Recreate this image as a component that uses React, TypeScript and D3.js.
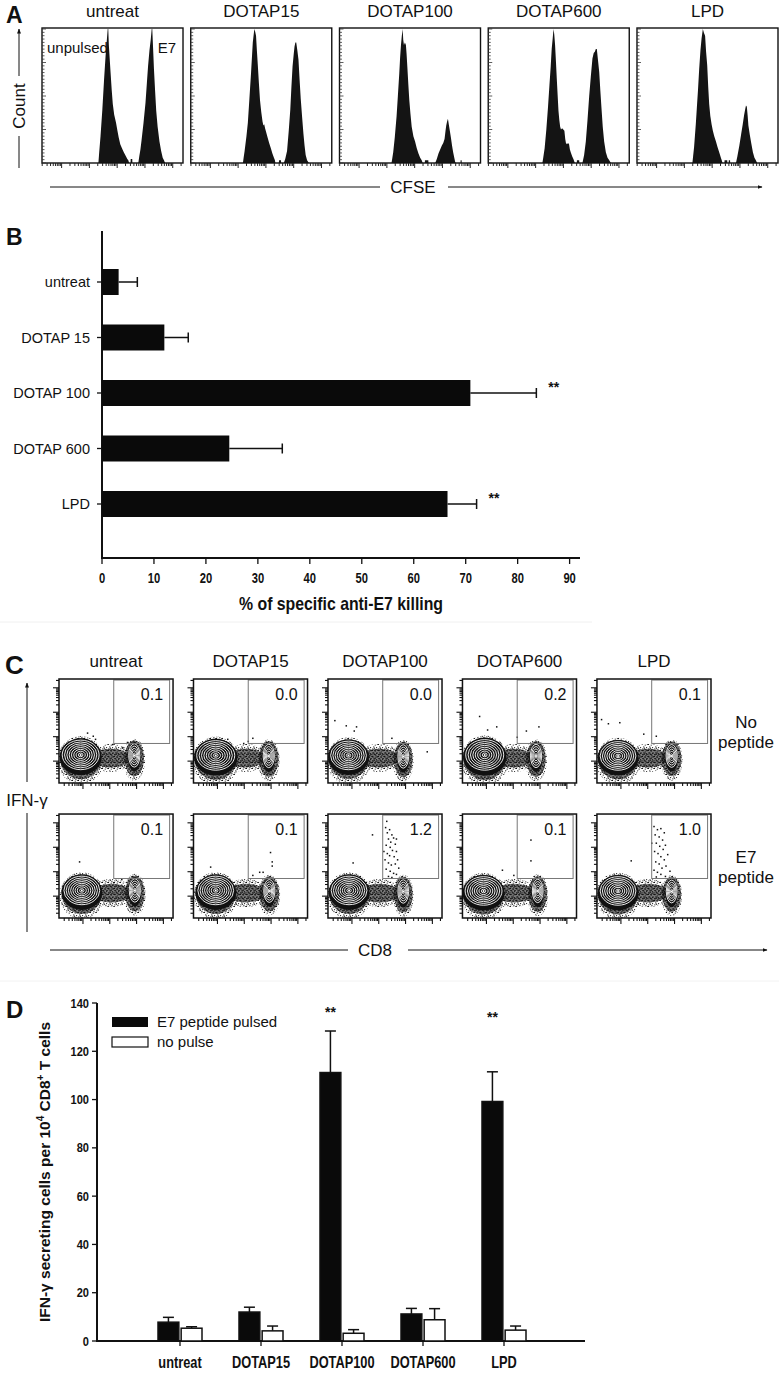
import React from 'react'
import * as d3 from 'd3'

const W = 779
const H = 1377
const SANS = "'Liberation Sans', Arial, Helvetica, sans-serif"

// ---- panel A : CFSE histograms (x = channel 0-1000, y = % of max count)
const histSamples = ['untreat', 'DOTAP15', 'DOTAP100', 'DOTAP600', 'LPD']
const histUntreat: [number, number][] = [[400,0],[405,7],[415,20],[428,40],[440,62],[451,80],[460,92],[466,100],[470,100],[474,88],[480,78],[486,68],[494,55],[502,44],[512,36],[525,30],[535,24],[544,19],[555,14],[567,11],[580,8],[595,5],[605,3],[612,2],[618,0],[628,0],[629,3],[640,3],[641,0],[683,0],[690,5],[698,10],[706,17],[720,30],[734,45],[744,60],[752,72],[762,84],[771,92],[778,100],[782,100],[788,85],[794,70],[802,54],[810,39],[820,27],[833,16],[845,9],[856,4],[865,2],[873,0]]
const histDotap15: [number, number][] = [[370,0],[375,4],[382,9],[395,20],[405,30],[416,48],[428,68],[440,90],[451,100],[457,98],[463,95],[469,84],[475,74],[483,60],[491,47],[500,38],[509,31],[515,28],[521,29],[527,26],[532,24],[545,19],[556,15],[568,11],[579,7],[590,4],[597,2],[600,0],[625,0],[626,2],[640,2],[641,0],[660,0],[670,3],[683,9],[695,24],[706,40],[714,57],[722,72],[730,81],[736,87],[742,90],[748,90],[756,84],[764,77],[772,62],[780,48],[790,34],[799,22],[807,13],[815,6],[825,2],[838,0]]
const histDotap100: [number, number][] = [[369,0],[375,4],[381,8],[392,19],[405,35],[414,50],[424,67],[430,79],[436,88],[442,95],[448,100],[452,92],[457,88],[464,90],[471,88],[476,81],[481,72],[488,59],[495,47],[503,37],[512,27],[524,20],[536,16],[548,11],[560,7],[572,4],[583,2],[590,0],[605,0],[606,2],[630,2],[631,0],[679,0],[690,3],[702,7],[714,10],[726,13],[736,15],[745,18],[752,24],[757,28],[763,31],[769,33],[775,29],[781,25],[790,19],[798,13],[806,8],[814,4],[820,1],[824,0],[858,0],[859,2],[866,2],[867,0]]
const histDotap600: [number, number][] = [[384,0],[390,4],[400,11],[412,25],[424,42],[434,58],[443,72],[450,85],[457,93],[463,100],[468,96],[474,88],[480,76],[486,63],[492,51],[498,39],[504,32],[510,27],[516,25],[524,26],[532,25],[540,24],[546,18],[551,15],[558,14],[566,15],[573,14],[579,10],[585,8],[595,5],[604,3],[614,0],[628,0],[629,2],[645,2],[646,0],[668,0],[680,6],[692,16],[704,32],[716,50],[727,64],[739,78],[748,82],[756,83],[763,85],[770,85],[778,77],[787,68],[795,54],[803,41],[812,27],[822,16],[834,8],[846,4],[858,2],[870,0]]
const histLpd: [number, number][] = [[393,0],[398,5],[405,12],[417,29],[425,42],[433,55],[441,70],[450,84],[458,93],[467,100],[475,97],[483,95],[490,83],[498,73],[505,57],[512,44],[520,35],[529,29],[538,24],[548,20],[560,16],[571,12],[583,8],[595,4],[601,2],[607,0],[620,0],[621,2],[640,2],[641,0],[650,0],[651,2],[660,2],[661,0],[702,0],[712,5],[726,13],[738,21],[750,29],[760,36],[767,40],[773,43],[779,42],[785,35],[790,28],[800,21],[810,15],[822,8],[833,4],[843,2],[852,0]]
const histograms = [histUntreat, histDotap15, histDotap100, histDotap600, histLpd]

// ---- panel B : % specific killing
const killCategories = ['untreat', 'DOTAP 15', 'DOTAP 100', 'DOTAP 600', 'LPD']
const killMean = [3.2, 12.0, 70.9, 24.5, 66.5]
const killErr = [3.6, 4.6, 12.7, 10.2, 5.6]
const killSig = ['', '', '**', '', '**']
const killTicks = [0, 10, 20, 30, 40, 50, 60, 70, 80, 90]

// ---- panel C : IFN-g vs CD8 contour plots (units 0-1000 on both axes)
const flowSamples = ['untreat', 'DOTAP15', 'DOTAP100', 'DOTAP600', 'LPD']
const flowRows = ['No peptide', 'E7 peptide']
const flowRowLabels = [['No', 'peptide'], ['E7', 'peptide']]
const gateNoPeptide = ['0.1', '0.0', '0.0', '0.2', '0.1']
const gateE7 = ['0.1', '0.1', '1.2', '0.1', '1.0']
const gateBox = [480, 970, 380, 990]
// [cx, cy, rx, ry] of the densest contour region
const negNoPeptide = [[190,270,165,145],[195,265,170,145],[180,265,160,140],[195,270,170,150],[185,260,160,140]]
const posNoPeptide = [[660,265,50,115],[660,260,50,115],[660,255,48,115],[645,260,50,115],[655,260,50,112]]
const negE7 = [[200,265,160,140],[195,265,160,140],[185,265,160,140],[185,260,165,140],[185,260,160,140]]
const posE7 = [[665,265,50,115],[665,260,50,112],[660,255,48,115],[660,260,48,115],[655,255,48,112]]
const dotsNoPeptide = [
  [[300,450],[320,420],[250,480],[560,340],[600,390],[470,370]],
  [[480,400],[520,430],[440,380],[300,420]],
  [[160,550],[250,540],[230,500],[60,600],[560,430],[870,300]],
  [[150,640],[300,540],[220,510],[670,540],[560,500],[480,440]],
  [[40,610],[100,570],[200,580],[410,470],[520,450]],
]
const dotsE7 = [
  [[180,540],[550,370],[480,340]],
  [[675,630],[690,540],[690,500],[610,440],[150,490],[580,440],[520,410]],
  [[505,870],[520,820],[540,850],[560,800],[530,760],[550,730],[575,770],[590,710],[510,700],[545,680],[565,650],[600,640],[520,620],[540,600],[580,590],[610,560],[500,560],[530,530],[555,510],[590,520],[620,480],[510,470],[545,450],[575,430],[600,420],[530,400],[560,390],[490,640],[600,760],[515,930],[390,800],[220,530]],
  [[600,750],[600,550],[450,410],[350,460]],
  [[500,880],[530,850],[560,860],[590,820],[510,800],[545,780],[575,750],[520,720],[600,700],[550,690],[580,660],[505,640],[535,620],[620,610],[560,590],[590,560],[515,540],[545,520],[605,500],[570,480],[500,460],[530,440],[560,420],[600,400],[520,395],[640,450],[480,720],[300,550]],
]

// ---- panel D : ELISPOT
const elispotCategories = ['untreat', 'DOTAP15', 'DOTAP100', 'DOTAP600', 'LPD']
const elispotSeries = ['E7 peptide pulsed', 'no pulse']
const e7Mean = [7.8, 12.0, 111.2, 11.2, 99.2]
const e7Err = [2.0, 2.0, 17.2, 2.3, 12.3]
const noPulseMean = [5.3, 4.2, 3.2, 8.8, 4.5]
const noPulseErr = [0.6, 2.0, 1.5, 4.6, 1.7]
const elispotSigAt = [null, null, 134, null, 132]
const elispotTicks = [0, 20, 40, 60, 80, 100, 120, 140]

function logTicks(lo: number, hi: number) {
  const out: { p: number; major: boolean }[] = []
  for (let k = Math.floor(lo); k <= Math.ceil(hi); k++) {
    for (let m = 1; m <= 9; m++) {
      const p = k + Math.log10(m)
      if (p >= lo && p <= hi) out.push({ p, major: m === 1 })
    }
  }
  return out
}

// condensed bold text (Arial Narrow look)
const Narrow = ({ x, y, size, anchor = 'middle', sx = 0.8, children }: any) => (
  <text transform={`translate(${x},${y}) scale(${sx},1)`} textAnchor={anchor}
    fontFamily={SANS} fontWeight="bold" fontSize={size} fill="#111">{children}</text>
)

const Population = ({ pop, sx, sy, spread, rings }: any) => {
  const [cx, cy, rx, ry] = pop
  const px = sx(cx), py = sy(cy)
  const prx = sx(rx) - sx(0), pry = sy(0) - sy(ry)
  return (
    <g>
      <ellipse cx={px} cy={py + pry * 0.35} rx={prx * spread[0]} ry={pry * spread[1]} fill="url(#speckle)" />
      <ellipse cx={px} cy={py + pry * 0.25} rx={prx * spread[0] * 0.9} ry={pry * spread[1] * 0.85} fill="url(#speckle2)" />
      <ellipse cx={px} cy={py + pry * 0.12} rx={prx * 1.12} ry={pry * 1.22} fill="#111" />
      {d3.range(rings).map(i => {
        const s = 0.98 * (1 - i / rings)
        return <ellipse key={i} cx={px} cy={py} rx={prx * s} ry={pry * s} fill="none" stroke="#fff" strokeWidth={0.9} />
      })}
      <circle cx={px} cy={py} r={1} fill="#fff" />
    </g>
  )
}

const App = () => {
  // ---------- A
  const aBand = d3.scaleBand().domain(histSamples).range([42, 778]).paddingInner(0.052)
  const aW = aBand.bandwidth()
  const aTop = 28, aBottom = 163
  const hx = d3.scaleLinear().domain([0, 1000]).range([0, aW])
  const hy = d3.scaleLinear().domain([0, 100]).range([aBottom, aTop + 1])
  const aLog = d3.scaleLinear().domain([-0.706, 4.37]).range([0, aW])
  const aTicks = logTicks(-0.706, 4.37)
  const histArea = d3.area<[number, number]>().x(d => hx(d[0])).y0(hy(0)).y1(d => hy(d[1]))

  // ---------- B
  const kx = d3.scaleLinear().domain([0, 92]).range([102, 580])
  const ky = d3.scalePoint().domain(killCategories).range([282, 504])
  const kBarH = 26

  // ---------- C
  const cBand = d3.scaleBand().domain(flowSamples).range([59, 711]).paddingInner(0.152)
  const cRow = d3.scaleBand().domain(flowRows).range([679, 918]).paddingInner(0.23)
  const cW = cBand.bandwidth(), cH = cRow.bandwidth()
  const cLog = d3.scaleLinear().domain([0.106, 4.36]).range([0, 1])
  const cTicks = logTicks(0.106, 4.36)

  // ---------- D
  const dx = d3.scaleBand().domain(elispotCategories).range([139.5, 544.5])
  const dSub = d3.scaleBand().domain(elispotSeries).range([-22, 22]).paddingInner(0.1)
  const dy = d3.scaleLinear().domain([0, 140]).range([1341, 1003])

  const titleFont = { fontFamily: SANS, fontSize: 17, fill: '#111' }

  return (
    <svg width={W} height={H} style={{ position: 'absolute', left: 0, top: 0, background: '#fff' }}>
      <defs>
        <pattern id="speckle" width={6} height={6} patternUnits="userSpaceOnUse">
          <circle cx={0.5} cy={0.5} r={0.6} fill="#111" />
          <circle cx={3.2} cy={1.1} r={0.6} fill="#111" />
          <circle cx={1.8} cy={2.9} r={0.6} fill="#111" />
          <circle cx={4.6} cy={3.6} r={0.6} fill="#111" />
          <circle cx={0.9} cy={4.8} r={0.6} fill="#111" />
          <circle cx={3.9} cy={5.3} r={0.6} fill="#111" />
          <circle cx={5.4} cy={0.2} r={0.6} fill="#111" />
          <circle cx={2.5} cy={4.2} r={0.6} fill="#111" />
        </pattern>
        <pattern id="speckle2" width={4} height={4} patternUnits="userSpaceOnUse">
          <rect width={4} height={4} fill="#111" opacity={0.55} />
          <circle cx={1} cy={1} r={0.8} fill="#111" />
          <circle cx={3} cy={2.6} r={0.8} fill="#111" />
        </pattern>
        <marker id="arr" viewBox="0 0 10 10" refX={9} refY={5} markerWidth={5} markerHeight={5} orient="auto">
          <path d="M0,1 L10,5 L0,9 z" fill="#111" />
        </marker>
      </defs>
      <rect width={W} height={H} fill="#fff" />

      {/* ================= A ================= */}
      <text x={6} y={23} fontFamily={SANS} fontWeight="bold" fontSize={23} fill="#111">A</text>
      {histSamples.map((s, i) => {
        const x0 = aBand(s) as number
        return (
          <g key={s} transform={`translate(${x0},0)`}>
            <text x={aW / 2} y={17} textAnchor="middle" {...titleFont}>{s}</text>
            <path d={histArea(histograms[i]) as string} fill="#141414" />
            <rect x={0} y={aTop} width={aW} height={aBottom - aTop} fill="none" stroke="#111" strokeWidth={1.4} />
            {d3.range(0, 101, 2.5).map(v => (
              <line key={v} x1={0} x2={v % 25 === 0 ? 4 : 2.5} y1={hy(v)} y2={hy(v)} stroke="#333" strokeWidth={0.8} />
            ))}
            {aTicks.map((t, j) => (
              <line key={j} x1={aLog(t.p)} x2={aLog(t.p)} y1={aBottom} y2={aBottom + (t.major ? 5 : 3)} stroke="#222" strokeWidth={1} />
            ))}
            {i === 0 && (
              <g fontFamily={SANS} fontSize={15} fill="#111">
                <text x={5} y={53}>unpulsed</text>
                <text x={aW - 7} y={53} textAnchor="end">E7</text>
              </g>
            )}
          </g>
        )
      })}
      <line x1={19} x2={19} y1={76} y2={29} stroke="#111" strokeWidth={1} markerEnd="url(#arr)" />
      <text transform="translate(25,106) rotate(-90)" textAnchor="middle" {...titleFont}>Count</text>
      <line x1={19} x2={19} y1={136} y2={168} stroke="#111" strokeWidth={1} />
      <line x1={50} x2={380} y1={187} y2={187} stroke="#111" strokeWidth={1} />
      <text x={413} y={193} textAnchor="middle" {...titleFont}>CFSE</text>
      <line x1={448} x2={762} y1={187} y2={187} stroke="#111" strokeWidth={1} markerEnd="url(#arr)" />

      {/* ================= B ================= */}
      <text x={6} y={245} fontFamily={SANS} fontWeight="bold" fontSize={23} fill="#111">B</text>
      <line x1={102} x2={102} y1={231} y2={558} stroke="#111" strokeWidth={2} />
      <line x1={101} x2={580} y1={558} y2={558} stroke="#111" strokeWidth={2} />
      {killTicks.map(t => (
        <g key={t}>
          <line x1={kx(t)} x2={kx(t)} y1={558} y2={564} stroke="#111" strokeWidth={1.3} />
          <Narrow x={kx(t)} y={583} size={14}>{t}</Narrow>
        </g>
      ))}
      <Narrow x={341} y={610} size={18} sx={0.88}>% of specific anti-E7 killing</Narrow>
      {killCategories.map((c, i) => {
        const y = ky(c) as number
        const xe = kx(killMean[i] + killErr[i])
        return (
          <g key={c}>
            <line x1={97} x2={102} y1={y} y2={y} stroke="#111" strokeWidth={1.3} />
            <text x={90} y={y + 5} textAnchor="end" fontFamily={SANS} fontSize={14.5} fill="#111">{c}</text>
            <rect x={kx(0)} y={y - kBarH / 2} width={kx(killMean[i]) - kx(0)} height={kBarH} fill="#0a0a0a" />
            <line x1={kx(killMean[i])} x2={xe} y1={y} y2={y} stroke="#111" strokeWidth={1.5} />
            <line x1={xe} x2={xe} y1={y - 5} y2={y + 5} stroke="#111" strokeWidth={1.5} />
            {killSig[i] && (
              <text x={xe + 12} y={y - 1} fontFamily={SANS} fontWeight="bold" fontSize={14} fill="#111">{killSig[i]}</text>
            )}
          </g>
        )
      })}
      <line x1={0} x2={592} y1={622} y2={622} stroke="#f0f0f0" strokeWidth={1} />

      {/* ================= C ================= */}
      <text x={5} y={674} fontFamily={SANS} fontWeight="bold" fontSize={26} fill="#111">C</text>
      {flowSamples.map(s => (
        <text key={s} x={(cBand(s) as number) + cW / 2} y={667} textAnchor="middle" {...titleFont}>{s}</text>
      ))}
      {flowRows.map((row, r) => {
        const y0 = cRow(row) as number
        const gates = r === 0 ? gateNoPeptide : gateE7
        const negs = r === 0 ? negNoPeptide : negE7
        const poss = r === 0 ? posNoPeptide : posE7
        const dots = r === 0 ? dotsNoPeptide : dotsE7
        return (
          <g key={row}>
            {flowSamples.map((s, i) => {
              const x0 = cBand(s) as number
              const sx = d3.scaleLinear().domain([0, 1000]).range([x0, x0 + cW])
              const sy = d3.scaleLinear().domain([0, 1000]).range([y0 + cH, y0])
              const neg = negs[i], pos = poss[i]
              const bx0 = sx(neg[0] + neg[2] * 0.5), bx1 = sx(pos[0] - pos[2] * 0.5)
              const clipId = `clip-${r}-${i}`
              return (
                <g key={s}>
                  <clipPath id={clipId}><rect x={x0} y={y0} width={cW} height={cH} /></clipPath>
                  <g clipPath={`url(#${clipId})`}>
                    <ellipse cx={(bx0 + bx1) / 2} cy={sy(240)} rx={(bx1 - bx0) / 2} ry={sy(0) - sy(135)} fill="url(#speckle)" />
                    <ellipse cx={(bx0 + bx1) / 2} cy={sy(240)} rx={(bx1 - bx0) / 2.1} ry={sy(0) - sy(90)} fill="url(#speckle2)" />
                    <Population pop={neg} sx={sx} sy={sy} spread={[1.22, 1.6]} rings={8} />
                    <Population pop={pos} sx={sx} sy={sy} spread={[1.9, 1.75]} rings={5} />
                    {dots[i].map((d, j) => (
                      <rect key={j} x={sx(d[0]) - 0.7} y={sy(d[1]) - 0.7} width={1.5} height={1.5} fill="#111" />
                    ))}
                  </g>
                  <rect x={sx(gateBox[0])} y={sy(gateBox[3])} width={sx(gateBox[1]) - sx(gateBox[0])} height={sy(gateBox[2]) - sy(gateBox[3])}
                    fill="none" stroke="#777" strokeWidth={1} />
                  <rect x={x0} y={y0} width={cW} height={cH} fill="none" stroke="#111" strokeWidth={1.5} />
                  {cTicks.map((t, j) => (
                    <g key={j}>
                      <line x1={x0} x2={x0 - (t.major ? 6 : 3)} y1={y0 + cH - cLog(t.p) * cH} y2={y0 + cH - cLog(t.p) * cH} stroke="#111" strokeWidth={1.1} />
                      <line x1={x0 + cLog(t.p) * cW} x2={x0 + cLog(t.p) * cW} y1={y0 + cH} y2={y0 + cH + (t.major ? 6 : 3)} stroke="#111" strokeWidth={1.1} />
                    </g>
                  ))}
                  <text x={x0 + cW - 10} y={y0 + 21} textAnchor="end" fontFamily={SANS} fontSize={16} fill="#111">{gates[i]}</text>
                </g>
              )
            })}
            <text x={746} y={y0 + 49} textAnchor="middle" {...titleFont}>{flowRowLabels[r][0]}</text>
            <text x={746} y={y0 + 69} textAnchor="middle" {...titleFont}>{flowRowLabels[r][1]}</text>
          </g>
        )
      })}
      <line x1={27} x2={27} y1={782} y2={683} stroke="#111" strokeWidth={1} markerEnd="url(#arr)" />
      <text x={27} y={806} textAnchor="middle" {...titleFont}>IFN-γ</text>
      <line x1={27} x2={27} y1={813} y2={932} stroke="#111" strokeWidth={1} />
      <line x1={50} x2={348} y1={950} y2={950} stroke="#111" strokeWidth={1} />
      <text x={358} y={956} {...titleFont}>CD8</text>
      <line x1={408} x2={767} y1={950} y2={950} stroke="#111" strokeWidth={1} markerEnd="url(#arr)" />
      <line x1={0} x2={779} y1={981} y2={981} stroke="#f2f2f2" strokeWidth={1} />

      {/* ================= D ================= */}
      <text x={6} y={1018} fontFamily={SANS} fontWeight="bold" fontSize={24} fill="#111">D</text>
      <line x1={97} x2={97} y1={dy(140)} y2={dy(0)} stroke="#111" strokeWidth={2} />
      <line x1={96} x2={585} y1={dy(0)} y2={dy(0)} stroke="#111" strokeWidth={2} />
      {elispotTicks.map(t => (
        <g key={t}>
          <line x1={92} x2={97} y1={dy(t)} y2={dy(t)} stroke="#111" strokeWidth={1.3} />
          <Narrow x={89} y={dy(t) + 4.5} size={13.5} anchor="end" sx={0.82}>{t}</Narrow>
        </g>
      ))}
      <text transform={`translate(50,${(dy(0) + dy(140)) / 2}) rotate(-90)`} textAnchor="middle" fontFamily={SANS} fontWeight="bold" fontSize={15.5} fill="#111">
        IFN-γ secreting cells per 10<tspan dy={-6} fontSize={10}>4</tspan><tspan dy={6}> CD8</tspan><tspan dy={-6} fontSize={10}>+</tspan><tspan dy={6}> T cells</tspan>
      </text>
      {elispotCategories.map((c, i) => {
        const cx = (dx(c) as number) + dx.bandwidth() / 2
        const bars = [
          { key: elispotSeries[0], m: e7Mean[i], e: e7Err[i], fill: '#0a0a0a' },
          { key: elispotSeries[1], m: noPulseMean[i], e: noPulseErr[i], fill: '#fff' },
        ]
        return (
          <g key={c}>
            <line x1={cx} x2={cx} y1={dy(0)} y2={dy(0) + 5} stroke="#111" strokeWidth={1.3} />
            <Narrow x={cx} y={1368} size={16} sx={0.8}>{c}</Narrow>
            {bars.map(b => {
              const bx = cx + (dSub(b.key) as number)
              const bw = dSub.bandwidth()
              const mx = bx + bw / 2
              return (
                <g key={b.key}>
                  <line x1={mx} x2={mx} y1={dy(b.m)} y2={dy(b.m + b.e)} stroke="#111" strokeWidth={1.5} />
                  <line x1={mx - 5.5} x2={mx + 5.5} y1={dy(b.m + b.e)} y2={dy(b.m + b.e)} stroke="#111" strokeWidth={1.5} />
                  <rect x={bx} y={dy(b.m)} width={bw} height={dy(0) - dy(b.m)} fill={b.fill} stroke="#111" strokeWidth={1.5} />
                </g>
              )
            })}
            {elispotSigAt[i] != null && (
              <text x={cx + (dSub(elispotSeries[0]) as number) + dSub.bandwidth() / 2} y={dy(elispotSigAt[i] as number)} textAnchor="middle"
                fontFamily={SANS} fontWeight="bold" fontSize={14} fill="#111">**</text>
            )}
          </g>
        )
      })}
      <rect x={112} y={1017} width={36} height={10} fill="#0a0a0a" />
      <text x={157} y={1027} fontFamily={SANS} fontSize={15} fill="#111">{elispotSeries[0]}</text>
      <rect x={112} y={1037} width={36} height={10} fill="#fff" stroke="#111" strokeWidth={1.2} />
      <text x={157} y={1047} fontFamily={SANS} fontSize={15} fill="#111">{elispotSeries[1]}</text>
    </svg>
  )
}

export default App
